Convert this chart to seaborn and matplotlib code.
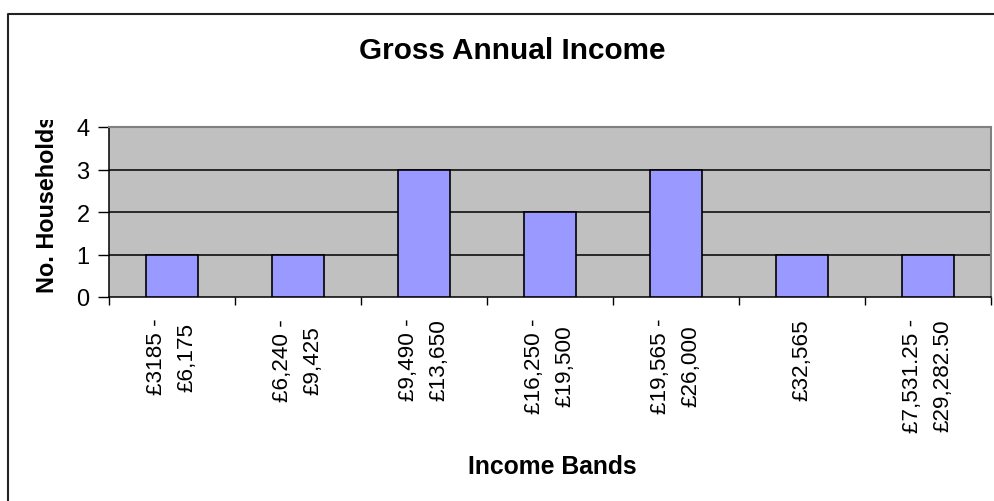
import matplotlib
matplotlib.use("Agg")
import matplotlib.pyplot as plt
import seaborn as sns
import pandas as pd
from matplotlib.lines import Line2D
from matplotlib.transforms import Bbox, TransformedBbox

categories = ["£3185 -\n£6,175", "£6,240 -\n£9,425", "£9,490 -\n£13,650",
              "£16,250 -\n£19,500", "£19,565 -\n£26,000", "£32,565",
              "£7,531.25 -\n£29,282.50"]
households = [1, 1, 3, 2, 3, 1, 1]
yticks = [0, 1, 2, 3, 4]

sns.set_theme(style="white")
plt.rcParams['font.family'] = ['Liberation Sans', 'DejaVu Sans']
plt.rcParams['text.color'] = 'black'
plt.rcParams['xtick.color'] = 'black'
plt.rcParams['ytick.color'] = 'black'
plt.rcParams['xtick.labelcolor'] = 'black'
plt.rcParams['ytick.labelcolor'] = 'black'

W, H = 994, 502
fig = plt.figure(figsize=(W / 100, H / 100), dpi=100)
fig.patch.set_facecolor("white")
ax = fig.add_axes([109 / W, 1 - 298 / H, 882 / W, 170 / H])

df = pd.DataFrame({"band": categories, "n": households})
sns.barplot(data=df, x="band", y="n", ax=ax, color="#9999FF",
            saturation=1, edgecolor="black", linewidth=1.2, width=0.42, zorder=3)

ax.set_facecolor("#C0C0C0")
ax.set_ylim(0, 4)
ax.set_xlim(-0.5, len(categories) - 0.5)
ax.set_yticks(yticks)
ax.set_yticklabels([str(t) for t in yticks], fontsize=17)
for t in yticks[1:]:
    ax.axhline(t, color="black", linewidth=1.1, zorder=2)

# category boundary ticks on x axis
ax.set_xticks([i - 0.5 for i in range(len(categories) + 1)], minor=False)
ax.set_xticklabels([])
ax.set_xticks(range(len(categories)), minor=True)
ax.set_xticklabels(categories, minor=True, rotation=90, fontsize=16.2,
                   multialignment="center", linespacing=1.6)
ax.tick_params(axis="x", which="major", direction="out", length=6, width=1,
               color="black", bottom=True)
ax.tick_params(axis="x", which="minor", length=0, pad=15, bottom=True)
ax.tick_params(axis="y", direction="out", length=8, width=1, color="black",
               left=True, pad=6)

for s in ["left", "bottom"]:
    ax.spines[s].set_color("black")
    ax.spines[s].set_linewidth(1.1)
for s in ["top", "right"]:
    ax.spines[s].set_color("#808080")
    ax.spines[s].set_linewidth(1.5)
ax.set_xlabel("")
ax.set_ylabel("")

fig.text(512 / W, 1 - 51 / H, "Gross Annual Income", ha="center",
         va="center", fontsize=21.4, fontweight="bold")
fig.text(552 / W, 1 - 467 / H, "Income Bands", ha="center", va="center",
         fontsize=17.8, fontweight="bold")
yl = fig.text(48 / W, 1 - 293 / H, "No. Households", rotation=90,
              ha="center", va="bottom", fontsize=16.8, fontweight="bold")
yl.set_clip_box(TransformedBbox(Bbox([[0, 0], [1, 1 - 121 / H]]),
                                fig.transFigure))
yl.set_clip_on(True)

# outer chart frame
fig.add_artist(Line2D([8 / W, 8 / W, 1], [0, 1 - 15 / H, 1 - 15 / H],
                      transform=fig.transFigure, color="#222222",
                      linewidth=1.5))

fig.savefig("out.png", dpi=100)
